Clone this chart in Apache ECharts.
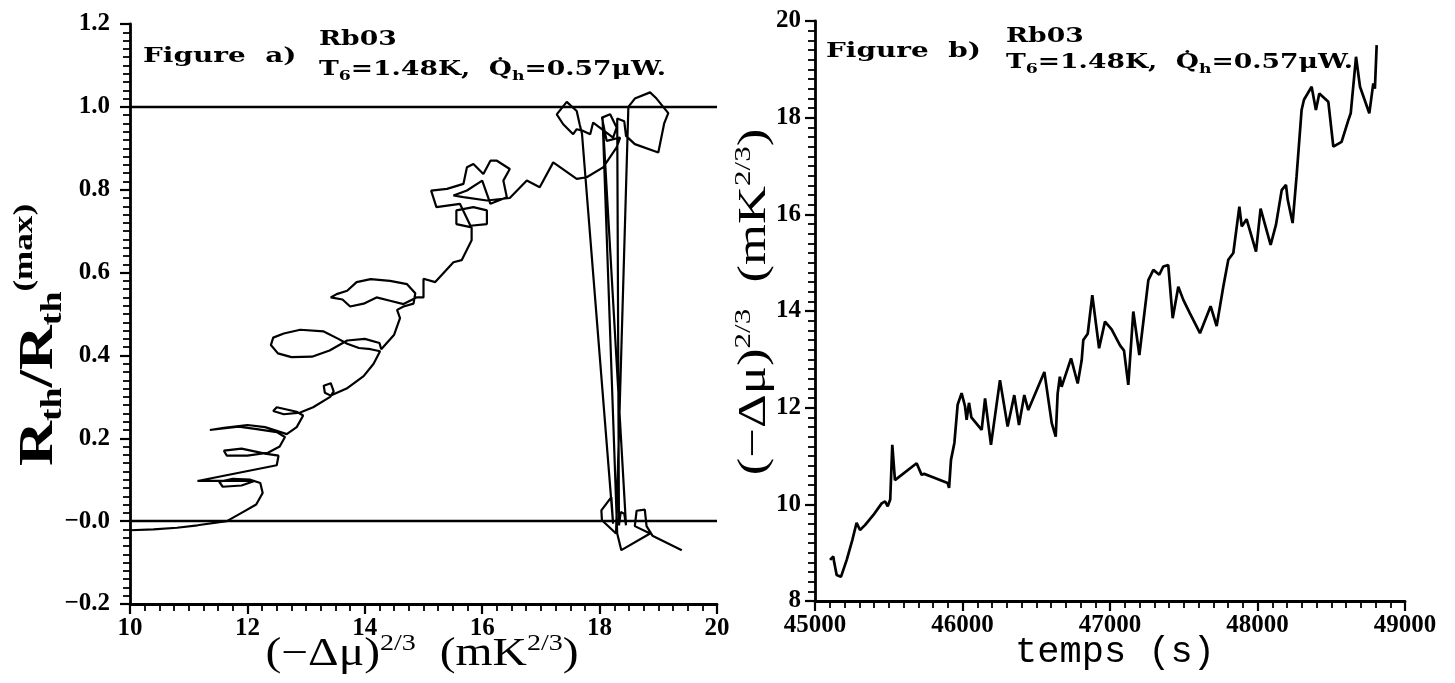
<!DOCTYPE html>
<html>
<head>
<meta charset="utf-8">
<script src="https://cdn.jsdelivr.net/npm/echarts@6/dist/echarts.min.js"></script>
<style>
html,body{margin:0;padding:0;background:#fff;}
#chart{width:1455px;height:683px;}
</style>
</head>
<body>
<div id="chart"></div>
<script>
// ---- Figure a) : trajectory R_th/R_th(max) vs (-Δμ)^(2/3) ----
const pathPoints = [
  [10.0,-0.022],[10.4,-0.02],[10.8,-0.016],[11.15,-0.01],[11.65,0.0],[11.9,0.02],[12.15,0.04],[12.26,0.068],
  [12.22,0.092],[12.05,0.1],[11.75,0.102],[11.52,0.095],[11.58,0.083],[11.9,0.086],[12.12,0.097],
  [11.15,0.097],[12.5,0.135],[12.53,0.158],[12.3,0.163],[11.9,0.175],[11.6,0.17],[11.65,0.158],[12.0,0.158],
  [12.35,0.165],[12.55,0.18],[12.64,0.203],[12.5,0.215],[12.16,0.222],[11.85,0.228],[11.36,0.22],[11.6,0.225],
  [12.0,0.232],[12.3,0.227],[12.5,0.218],[12.67,0.21],[12.84,0.227],[12.95,0.255],[12.84,0.264],[12.5,0.275],
  [12.44,0.266],[12.62,0.258],[12.9,0.262],[13.12,0.275],[13.41,0.3],[13.47,0.313],[13.42,0.333],[13.3,0.327],
  [13.32,0.31],[13.42,0.303],[13.69,0.32],[13.98,0.35],[14.15,0.38],[14.26,0.41],
  [14.1,0.415],[13.9,0.418],[13.7,0.428],[13.55,0.44],[13.3,0.458],[12.9,0.462],[12.62,0.453],[12.44,0.443],
  [12.4,0.425],[12.52,0.405],[12.75,0.396],[13.1,0.397],[13.4,0.412],[13.7,0.436],[14.0,0.44],[14.25,0.43],
  [14.28,0.415],[14.5,0.45],[14.6,0.49],[14.55,0.51],[14.66,0.518],[14.83,0.525],[14.86,0.55],[14.72,0.572],
  [14.43,0.58],[14.1,0.584],[13.86,0.577],[13.7,0.556],[13.52,0.548],[13.42,0.54],[13.62,0.535],[13.75,0.518],
  [13.98,0.525],[14.2,0.54],[14.43,0.532],[14.66,0.524],[14.88,0.54],[15.0,0.54],[15.0,0.585],[15.2,0.577],
  [15.51,0.625],[15.65,0.63],[15.82,0.678],[15.82,0.709],
  [15.56,0.717],[15.56,0.75],[15.85,0.758],[16.08,0.75],[16.08,0.717],[15.8,0.713],[15.62,0.766],[15.22,0.758],
  [15.13,0.798],[15.4,0.802],[15.68,0.814],[15.74,0.854],[15.85,0.862],[16.02,0.838],[16.14,0.87],[16.25,0.87],
  [16.47,0.85],[16.36,0.822],[16.42,0.782],[16.14,0.766],[16.0,0.822],[15.74,0.798],[15.51,0.786],[15.68,0.782],
  [16.08,0.774],[16.47,0.78],[16.76,0.822],[16.98,0.806],[17.21,0.866],[17.61,0.826],[17.78,0.83],[18.06,0.854],
  [18.29,0.902],[18.35,0.926],
  [18.12,0.918],[18.04,0.974],[18.18,0.982],[18.29,0.95],[18.23,0.926],[17.89,0.962],[17.84,0.934],[17.72,0.942],
  [17.61,0.946],[17.55,0.934],[17.38,0.958],[17.27,0.982],[17.44,1.012],[17.61,0.99],[17.66,0.958],[17.7,0.935],
  [18.23,-0.006],[18.2,0.058],[18.03,0.026],[18.04,0.002],[18.28,-0.03],
  [18.49,1.0],[18.6,1.02],[18.86,1.035],[18.97,1.02],[19.17,0.985],[19.1,0.96],[19.0,0.89],[18.6,0.91],
  [18.45,0.93],[18.42,0.965],[18.3,0.972],
  [18.33,-0.01],[18.36,0.022],[18.42,0.018],[18.45,-0.01],
  [18.05,0.975],
  [18.3,-0.03],[18.37,-0.07],[18.86,-0.03],[18.6,-0.012],[18.63,0.025],[18.77,0.028],[18.8,-0.012],[18.9,-0.035],
  [19.4,-0.07]
];
const refLevels = [1.0, 0.0];
const leftXTickLabels = ['10','12','14','16','18','20'];
const leftYTickLabels = ['\u22120.2','\u22120.0','0.2','0.4','0.6','0.8','1.0','1.2'];

// ---- Figure b) : (-Δμ)^(2/3) vs time ----
const times = [45102,45124,45130,45147,45176,45215,45253,45282,45305,45339,45396,45452,45475,45493,45510,45524,
  45542,45689,45723,45740,45791,45899,45909,45922,45945,45967,45994,46017,46028,46044,46060,46130,46153,46193,
  46254,46306,46351,46383,46419,46446,46555,46605,46632,46645,46660,46672,46736,46781,46808,46819,46849,46880,
  46926,46966,47011,47068,47095,47124,47158,47199,47260,47294,47334,47361,47395,47425,47463,47497,47542,47610,
  47682,47723,47768,47802,47836,47877,47893,47926,47990,48021,48089,48125,48164,48193,48205,48238,48265,48299,
  48315,48367,48396,48419,48480,48514,48570,48616,48632,48668,48695,48758,48785,48796,48808];
const values = [8.85,8.92,8.8,8.54,8.50,8.85,9.26,9.62,9.47,9.57,9.78,10.02,10.06,9.96,10.1,11.23,
  10.50,10.85,10.61,10.63,10.57,10.44,10.34,10.92,11.27,12.06,12.30,12.03,11.75,12.1,11.8,11.54,12.19,11.23,
  12.57,11.61,12.26,11.64,12.26,11.95,12.74,11.68,11.40,12.29,12.64,12.43,13.02,12.50,12.98,13.40,13.53,14.33,
  13.23,13.78,13.62,13.29,13.18,12.47,13.99,13.09,14.64,14.85,14.75,14.92,14.95,13.85,14.50,14.23,13.95,13.54,
  14.10,13.69,14.50,15.06,15.2,16.16,15.75,15.9,15.23,16.12,15.37,15.78,16.50,16.61,16.3,15.82,16.79,18.16,
  18.37,18.64,18.16,18.5,18.33,17.40,17.5,17.95,18.09,19.26,18.64,18.09,18.71,18.6,19.50];
const rightXTickLabels = ['45000','46000','47000','48000','49000'];
const rightYTickLabels = ['8','10','12','14','16','18','20'];

// ---- helpers ----
function labelFrom(list, min, step) {
  return function (v) {
    const i = Math.round((v - min) / step);
    return list[i] !== undefined ? list[i] : '';
  };
}
const tickText = {fontFamily:'Liberation Serif', fontWeight:'bold', fontSize:25, color:'#000'};
function axisStyle(extra) {
  return Object.assign({
    type:'value',
    axisLine:{show:true, onZero:false, lineStyle:{color:'#000', width:2.8}},
    axisTick:{show:true, inside:false, length:10, lineStyle:{color:'#000', width:2.2}},
    splitLine:{show:false},
    minorSplitLine:{show:false}
  }, extra);
}
function minor(n) {
  return {show:true, splitNumber:n, length:7, lineStyle:{color:'#000', width:1.8}};
}

const serifB = 'DejaVu Serif';
const annRich = {
  s:{fontFamily:serifB, fontWeight:'bold', fontSize:13, verticalAlign:'bottom', lineHeight:14},
  m:{fontFamily:serifB, fontWeight:'bold', fontSize:20, lineHeight:26},
  f:{fontFamily:serifB, fontWeight:'bold', fontSize:21, lineHeight:26}
};
function ann(x, y, text) {
  return {type:'text', x:x, y:y, scaleX:1.33, silent:true,
    style:{text:text, fontFamily:serifB, fontWeight:'bold', fontSize:20, fill:'#000',
      align:'left', verticalAlign:'middle', rich:annRich}};
}
const tLine = '{m|T}{s|6}{m|=1.48K,  Q\u0307}{s|h}{m|=0.57\u03bcW.}';

const titleRich = {
  m:{fontFamily:'Liberation Serif', fontSize:39, lineHeight:46},
  sup:{fontFamily:'Liberation Serif', fontSize:23, verticalAlign:'top', lineHeight:30}
};
const yRich = {
  m:{fontFamily:'Liberation Serif', fontWeight:'bold', fontSize:48, lineHeight:56},
  sub:{fontFamily:'Liberation Serif', fontWeight:'bold', fontSize:29, verticalAlign:'bottom', lineHeight:30},
  sup:{fontFamily:'Liberation Serif', fontWeight:'bold', fontSize:27, verticalAlign:'top', lineHeight:30}
};
const muTitle = '{m|(\u2212\u0394\u03bc)}{sup|2/3}{m|  (mK}{sup|2/3}{m|)}';

const chart = echarts.init(document.getElementById('chart'));
chart.setOption({
  animation:false,
  backgroundColor:'#fff',
  grid:[
    {left:130, top:24, width:587, height:580},
    {left:815, top:21, width:590, height:580}
  ],
  xAxis:[
    axisStyle({gridIndex:0, min:10, max:20, interval:2, minorTick:minor(8),
      axisLabel:Object.assign({margin:12, formatter:labelFrom(leftXTickLabels, 10, 2)}, tickText)}),
    axisStyle({gridIndex:1, min:45000, max:49000, interval:1000, minorTick:minor(10),
      axisLabel:Object.assign({margin:12, formatter:labelFrom(rightXTickLabels, 45000, 1000)}, tickText)})
  ],
  yAxis:[
    axisStyle({gridIndex:0, min:-0.2, max:1.2, interval:0.2, minorTick:minor(10),
      axisLabel:Object.assign({margin:20, formatter:labelFrom(leftYTickLabels, -0.2, 0.2)}, tickText)}),
    axisStyle({gridIndex:1, min:8, max:20, interval:2, minorTick:minor(10),
      axisLabel:Object.assign({margin:14, formatter:labelFrom(rightYTickLabels, 8, 2)}, tickText)})
  ],
  series:[
    {type:'line', xAxisIndex:0, yAxisIndex:0, data:pathPoints, showSymbol:false, symbol:'none',
      lineStyle:{color:'#000', width:2.2}, silent:true,
      markLine:{silent:true, symbol:'none', label:{show:false},
        lineStyle:{color:'#000', width:2.4, type:'solid'},
        data:refLevels.map(function (v) { return {yAxis:v}; })}},
    {type:'line', xAxisIndex:1, yAxisIndex:1, data:times.map(function (t, i) { return [t, values[i]]; }),
      showSymbol:false, symbol:'none', lineStyle:{color:'#000', width:2.7}, silent:true}
  ],
  graphic:[
    ann(143, 57, '{f|Figure  a)}'),
    ann(319, 40, '{m|Rb03}'),
    ann(319, 70, tLine),
    ann(826, 52, '{f|Figure  b)}'),
    ann(1006, 37, '{m|Rb03}'),
    ann(1006, 63, tLine),
    {type:'text', x:422, y:655, scaleX:1.22, silent:true,
      style:{text:muTitle, fill:'#000', align:'center', verticalAlign:'middle', rich:titleRich}},
    {type:'text', x:1115, y:652, silent:true,
      style:{text:'temps (s)', fontFamily:'Liberation Mono', fontSize:37, fill:'#000',
        align:'center', verticalAlign:'middle'}},
    {type:'text', x:40, y:335, rotation:Math.PI/2, scaleX:1.3, silent:true,
      style:{text:'{m|R}{sub|th}{m|/R}{sub|th}{sup|(max)}', fill:'#000', align:'center',
        verticalAlign:'middle', rich:yRich}},
    {type:'text', x:755, y:302, rotation:Math.PI/2, scaleX:1.35, silent:true,
      style:{text:muTitle, fill:'#000', align:'center', verticalAlign:'middle', rich:titleRich}}
  ]
});
</script>
</body>
</html>
